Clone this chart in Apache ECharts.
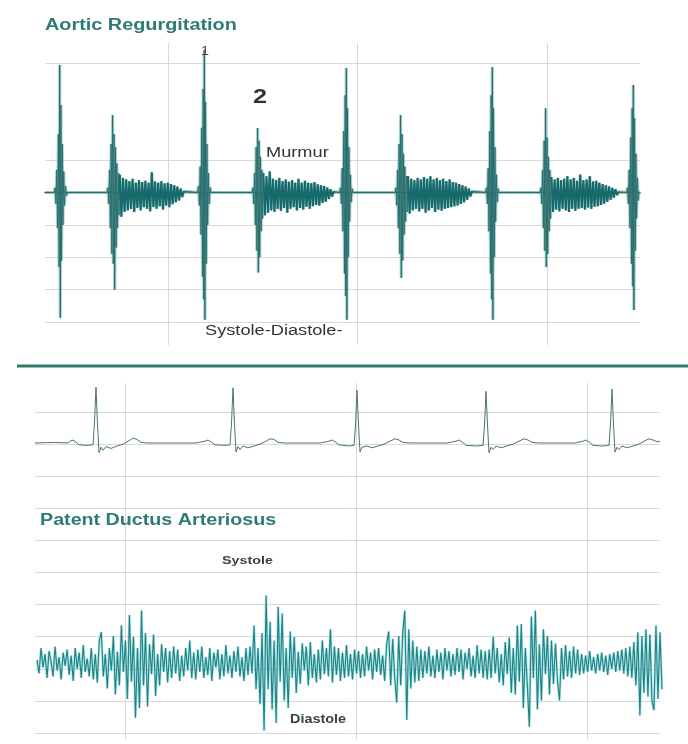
<!DOCTYPE html>
<html><head><meta charset="utf-8">
<script src="https://cdn.jsdelivr.net/npm/echarts@6/dist/echarts.min.js"></script>
<style>html,body{margin:0;padding:0;background:#fff}#c{width:688px;height:744px}</style>
</head><body><div id="c"></div>
<script>
// ---------- Aortic regurgitation phonocardiogram (time units, amplitude units) ----------
const s1a = [[9,0],[10.2,0.15],[11,-0.35],[11.8,0.7],[12.6,-1.1],[13.4,1.8],[14.1,-2.3],[14.7,3.94],[15.3,-3.87],[15.9,2.7],[16.5,-2.1],[17.2,1.5],[17.9,-1.0],[18.7,0.65],[19.5,-0.4],[20.4,0.2],[21.4,-0.1],[22.5,0]];
const s2a = [[62,0],[63,0.15],[63.8,-0.35],[64.6,0.7],[65.4,-1.1],[66.2,1.5],[66.9,-1.9],[67.6,2.39],[68.3,-2.2],[69,1.8],[69.7,-3.0],[70.4,1.4],[71.1,-1.7],[71.8,0.9],[72.5,-1.1],[73.3,0.6],[74,-0.7]];
const s1b = [[152.5,0],[153.5,0.2],[154.4,-0.4],[155.2,0.8],[156,-1.3],[156.8,2.0],[157.5,-2.6],[158.2,3.2],[158.8,-3.3],[159.3,4.4],[159.9,-3.93],[160.5,2.8],[161.2,-2.2],[161.9,1.5],[162.6,-1.0],[163.4,0.6],[164.2,-0.35],[165.1,0.15],[166,0]];
const s2b = [[207,0],[208,0.15],[208.8,-0.35],[209.6,0.6],[210.4,-1.0],[211.2,1.4],[211.9,-1.8],[212.6,1.99],[213.3,-2.47],[214,1.6],[214.7,-2.0],[215.4,1.1],[216.1,-1.2],[216.8,0.7],[217.6,-0.8]];
const s1c = [[294.5,0],[295.5,0.15],[296.4,-0.35],[297.2,0.75],[298,-1.2],[298.8,1.9],[299.5,-2.5],[300.2,3.0],[300.8,-3.2],[301.3,3.84],[301.9,-3.93],[302.5,2.6],[303.2,-2.0],[303.9,1.4],[304.6,-0.9],[305.4,0.55],[306.2,-0.3],[307.1,0.12],[308,0]];
const s2c = [[350,0],[351,0.15],[351.8,-0.4],[352.6,0.7],[353.4,-1.1],[354.2,1.5],[354.9,-1.9],[355.6,2.39],[356.3,-2.64],[357,1.8],[357.7,-2.1],[358.4,1.2],[359.1,-1.3],[359.8,0.8],[360.6,-0.9],[361.4,0.5],[362.2,-0.6]];
const s1d = [[440.5,0],[441.5,0.15],[442.4,-0.35],[443.2,0.75],[444,-1.2],[444.8,1.9],[445.5,-2.5],[446.2,3.0],[446.8,-3.3],[447.3,3.87],[447.9,-3.93],[448.5,2.6],[449.2,-2.0],[449.9,1.4],[450.6,-0.9],[451.4,0.55],[452.2,-0.3],[453.1,0.12],[454,0]];
const s2d = [[495,0],[496,0.15],[496.8,-0.35],[497.6,0.7],[498.4,-1.1],[499.2,1.6],[499.9,-1.8],[500.6,2.6],[501.3,-2.3],[502,1.7],[502.7,-1.9],[503.4,1.1],[504.1,-1.2],[504.8,0.7],[505.6,-0.8]];
const s1e = [[581.5,0],[582.5,0.15],[583.4,-0.35],[584.2,0.7],[585,-1.1],[585.8,1.7],[586.5,-2.2],[587.2,2.6],[587.8,-2.9],[588.3,3.32],[588.9,-3.63],[589.5,2.3],[590.2,-1.8],[590.9,1.2],[591.6,-0.8],[592.4,0.45],[593.2,-0.25],[594,0]];

const murmurStart = [74.8, 218.3, 363, 506.4];
const murmurStep = 1.6;
const murmur1 = [0.55,-0.75,0.45,-0.6,0.4,-0.55,0.35,-0.5,0.42,-0.6,0.3,-0.48,0.38,-0.55,0.32,-0.45,0.36,-0.5,0.3,-0.58,0.62,-0.45,0.34,-0.5,0.3,-0.42,0.35,-0.52,0.28,-0.4,0.3,-0.45,0.26,-0.36,0.22,-0.3,0.18,-0.24,0.12,-0.14,0.04];
const murmur2 = [0.6,-0.7,0.5,-0.62,0.65,-0.55,0.42,-0.6,0.38,-0.5,0.45,-0.56,0.35,-0.48,0.4,-0.62,0.33,-0.5,0.38,-0.45,0.3,-0.55,0.42,-0.48,0.3,-0.52,0.36,-0.44,0.3,-0.5,0.28,-0.42,0.32,-0.38,0.25,-0.4,0.22,-0.32,0.2,-0.28,0.15,-0.2,0.1,-0.12,0.03];
const murmur3 = [0.5,-0.65,0.42,-0.55,0.38,-0.5,0.45,-0.58,0.4,-0.5,0.48,-0.62,0.42,-0.55,0.5,-0.48,0.4,-0.6,0.45,-0.52,0.38,-0.56,0.42,-0.5,0.35,-0.48,0.4,-0.45,0.32,-0.42,0.3,-0.4,0.26,-0.35,0.22,-0.3,0.18,-0.22,0.12,-0.12,0.04];
const murmur4 = [0.48,-0.6,0.4,-0.52,0.45,-0.58,0.38,-0.5,0.42,-0.55,0.5,-0.6,0.4,-0.5,0.45,-0.56,0.36,-0.5,0.55,-0.48,0.38,-0.52,0.4,-0.46,0.5,-0.5,0.34,-0.44,0.36,-0.42,0.3,-0.38,0.26,-0.34,0.22,-0.28,0.18,-0.22,0.14,-0.16,0.1,-0.08,0.02];
const topEnds = [[0,0],[595,0]];

// ---------- ECG trace [time, mV] ----------
const ecgTrace = [
 [0,0],[20,0.01],[33,0],[35,0.03],[37,0.05],[40,0.03],[44,-0.03],[52,-0.04],[58,-0.03],[59.5,0.35],[61,0.93],[62.5,0.3],[64,-0.16],[66,-0.07],[68,-0.12],[71,-0.06],[76,-0.09],[82,-0.05],[88,-0.02],[94,0.04],[98,0.08],[102,0.06],[106,0.01],[113,0],
 [160,0],[170,0.03],[173,0.05],[176,0.02],[180,-0.03],[190,-0.04],[195,-0.03],[196.5,0.33],[198,0.92],[199.5,0.3],[201,-0.15],[203,-0.06],[205,-0.11],[208,-0.05],[213,-0.08],[219,-0.05],[225,-0.02],[231,0.03],[235,0.07],[239,0.06],[243,0.01],[250,0],
 [285,0],[294,0.03],[297,0.05],[300,0.02],[304,-0.03],[314,-0.05],[319,-0.04],[320.5,0.3],[322,0.88],[323.5,0.3],[325,-0.15],[327,-0.07],[329,-0.1],[332,-0.05],[337,-0.08],[343,-0.05],[349,-0.02],[355,0.03],[360,0.07],[364,0.05],[368,0.01],[375,0],
 [412,0],[421,0.03],[424,0.05],[427,0.02],[431,-0.04],[441,-0.05],[448,-0.04],[449.5,0.3],[451,0.86],[452.5,0.3],[454,-0.16],[456,-0.07],[458,-0.11],[461,-0.05],[466,-0.08],[472,-0.05],[478,-0.02],[484,0.03],[489,0.07],[493,0.05],[497,0.01],[504,0],
 [540,0],[548,0.03],[551,0.05],[554,0.02],[558,-0.04],[567,-0.05],[574,-0.04],[575.5,0.32],[577,0.9],[578.5,0.3],[580,-0.15],[582,-0.07],[584,-0.11],[587,-0.05],[592,-0.08],[598,-0.05],[604,-0.02],[610,0.04],[614,0.07],[618,0.05],[622,0.02],[625,0.03]
];

// ---------- Patent ductus arteriosus phonocardiogram (evenly sampled) ----------
const pdaSignal = [
 0.04,-0.14,0.2,-0.06,0.12,-0.2,0.16,0.02,-0.18,0.22,-0.1,0.08,-0.22,0.14,-0.04,0.18,
 -0.16,0.1,-0.24,0.2,-0.08,0.14,-0.2,0.24,-0.12,0.06,-0.18,0.2,-0.22,0.12,-0.26,0.3,
 0.41,-0.18,0.12,-0.34,0.2,-0.1,0.36,-0.42,0.15,-0.3,0.5,-0.12,0.3,-0.48,0.64,-0.25,
 0.35,-0.73,0.2,-0.6,0.7,-0.3,0.4,-0.58,0.25,-0.15,0.38,-0.44,0.12,-0.3,0.25,-0.12,
 0.2,-0.26,0.16,-0.2,0.22,-0.14,0.18,-0.24,0.1,-0.18,0.2,-0.1,0.3,-0.2,0.14,-0.22,
 0.18,-0.12,0.22,-0.2,0.08,-0.16,0.2,-0.24,0.14,-0.06,0.18,-0.22,0.12,-0.18,0.24,-0.14,
 0.1,-0.2,0.16,-0.12,0.22,-0.18,0.08,-0.24,0.2,-0.16,0.22,-0.14,0.5,-0.35,0.2,-0.55,
 0.4,-0.9,0.9,-0.35,0.55,-0.62,0.3,-0.8,0.75,-0.25,0.66,-0.5,0.2,-0.6,0.42,-0.2,
 0.35,-0.4,0.15,-0.28,0.26,-0.1,0.22,-0.3,0.28,-0.2,0.12,-0.26,0.18,-0.22,0.3,-0.15,
 0.2,-0.18,0.45,-0.26,0.22,-0.16,0.2,-0.24,0.14,-0.2,0.24,-0.18,0.12,-0.22,0.18,-0.14,
 0.16,-0.2,0.12,-0.18,0.22,-0.1,0.14,-0.22,0.18,-0.12,0.2,-0.16,0.1,-0.24,0.26,0.42,
 -0.3,0.32,-0.2,-0.53,0.36,-0.3,0.4,0.7,-0.76,0.45,-0.34,0.3,-0.26,0.22,-0.24,0.18,
 -0.2,0.16,-0.14,0.22,-0.18,0.1,-0.2,0.18,-0.12,0.14,-0.22,0.2,-0.1,0.16,-0.18,0.12,
 -0.16,0.2,-0.12,0.18,-0.22,0.14,-0.08,0.2,-0.18,0.1,-0.2,0.24,-0.14,0.18,-0.2,0.16,
 -0.22,0.18,-0.2,0.35,-0.14,0.2,-0.26,0.12,-0.3,0.28,-0.15,0.34,-0.4,0.2,-0.42,0.5,
 -0.25,0.52,-0.6,0.2,-0.3,-0.85,0.62,-0.2,0.7,-0.62,0.25,-0.5,0.45,-0.15,0.36,-0.42,
 0.3,-0.28,0.26,-0.24,-0.5,0.2,-0.22,0.24,-0.18,0.16,-0.2,0.22,-0.14,0.18,-0.16,0.12,
 -0.14,0.1,-0.12,0.16,-0.1,0.08,-0.14,0.12,-0.1,0.14,-0.12,0.1,-0.16,0.12,-0.08,0.14,
 -0.12,0.16,-0.1,0.18,-0.14,0.2,-0.18,0.22,-0.2,0.28,-0.3,0.41,-0.7,0.36,-0.4,0.45,
 -0.45,0.38,-0.5,-0.63,0.5,-0.48,0.41,-0.35
];

// ---------- labels ----------
const titleTop = 'Aortic Regurgitation';
const titleBottom = 'Patent Ductus Arteriosus';
const labels = { one: '1', two: '2', murmur: 'Murmur', sysdia: 'Systole-Diastole-', systole: 'Systole', diastole: 'Diastole' };

// ---------- build ----------
const sampled = (start, vals) => vals.map((v, i) => [start + i * murmurStep, v]);
const murmurs = [murmur1, murmur2, murmur3, murmur4].map((m, k) => sampled(murmurStart[k], m));
const topTrace = [].concat(
  [topEnds[0]], s1a, s2a, murmurs[0],
  s1b, s2b, murmurs[1],
  s1c, s2c, murmurs[2],
  s1d, s2d, murmurs[3],
  s1e, [topEnds[1]]
);

const GRID = '#d9d9d9';
const FONT = '"Liberation Sans", Arial, Helvetica, sans-serif';
const TEAL_T = '#2e7b76';
const hidden = { show: false };
const gridAxis = (extra) => Object.assign({
  axisLine: hidden, axisTick: hidden, axisLabel: hidden,
  splitLine: { show: true, lineStyle: { color: GRID, width: 1 } }
}, extra);

function txt(text, x, y, size, weight, fill, sx, align) {
  return { type: 'text', x: x, y: y, scaleX: sx, silent: true, z: 100,
    style: { text: text, font: weight + ' ' + size + 'px ' + FONT, fill: fill,
      align: align || 'left', verticalAlign: 'middle', textAlign: align || 'left', textVerticalAlign: 'middle' } };
}

const murmurSeries = murmurs.map(d => ({
  type: 'line', xAxisIndex: 0, yAxisIndex: 0, data: d, showSymbol: false, clip: false, silent: true, z: 3,
  lineStyle: { color: '#176a6c', width: 1.9 }
}));

const chart = echarts.init(document.getElementById('c'), null, { renderer: 'canvas' });
chart.setOption({
  backgroundColor: '#ffffff',
  animation: false,
  grid: [
    { left: 45, top: 63, width: 595, height: 259 },
    { left: 168, top: 43, width: 379, height: 302 },
    { left: 35, top: 412, width: 625, height: 321 },
    { left: 125, top: 383, width: 462, height: 357 },
    { left: 35, top: 383, width: 625, height: 120 },
    { left: 37, top: 588, width: 625, height: 150 }
  ],
  xAxis: [
    { gridIndex: 0, type: 'value', min: 0, max: 595, axisTick: hidden, axisLabel: hidden, splitLine: hidden,
      axisLine: { show: true, onZero: true, lineStyle: { color: '#2a3c3c', width: 1.3 } } },
    gridAxis({ gridIndex: 1, type: 'value', min: 0, max: 2, interval: 1 }),
    { gridIndex: 2, type: 'value', min: 0, max: 1, show: false },
    gridAxis({ gridIndex: 3, type: 'value', min: 0, max: 2, interval: 1 }),
    { gridIndex: 4, type: 'value', min: 0, max: 625, show: false },
    { gridIndex: 5, type: 'category', boundaryGap: false, data: pdaSignal.map((_, i) => i), show: false }
  ],
  yAxis: [
    { gridIndex: 0, type: 'value', min: -4, max: 4, interval: 1, axisLine: hidden, axisTick: hidden, axisLabel: hidden,
      splitLine: { show: true, lineStyle: { width: 1, color: [GRID, GRID, GRID, GRID, GRID, GRID, 'rgba(0,0,0,0)', 'rgba(0,0,0,0)', GRID] } } },
    { gridIndex: 1, type: 'value', min: 0, max: 1, show: false },
    gridAxis({ gridIndex: 2, type: 'value', min: 0, max: 10, interval: 1 }),
    { gridIndex: 3, type: 'value', min: 0, max: 1, show: false },
    { gridIndex: 4, type: 'value', min: -1, max: 1, show: false },
    { gridIndex: 5, type: 'value', min: -1, max: 1, show: false }
  ],
  series: [
    { type: 'line', xAxisIndex: 0, yAxisIndex: 0, data: topTrace, showSymbol: false, clip: false, silent: true,
      lineStyle: { color: 'rgba(110,178,174,0.6)', width: 3.2 } },
    { type: 'line', xAxisIndex: 0, yAxisIndex: 0, data: topTrace, showSymbol: false, clip: false, silent: true,
      lineStyle: { color: '#2a6f6e', width: 1 } }
  ].concat(murmurSeries, [
    { type: 'line', xAxisIndex: 4, yAxisIndex: 4, data: ecgTrace, showSymbol: false, clip: false, silent: true,
      lineStyle: { color: '#4a7472', width: 1 } },
    { type: 'line', xAxisIndex: 5, yAxisIndex: 5, data: pdaSignal, showSymbol: false, clip: false, silent: true,
      lineStyle: { color: 'rgba(90,190,192,0.45)', width: 2.6 } },
    { type: 'line', xAxisIndex: 5, yAxisIndex: 5, data: pdaSignal, showSymbol: false, clip: false, silent: true,
      lineStyle: { color: '#1a8488', width: 1.1 } }
  ]),
  graphic: [
    { type: 'line', silent: true, z: 50, shape: { x1: 17, y1: 366, x2: 688, y2: 366 }, style: { stroke: '#2f7a6c', lineWidth: 3 } },
    txt(titleTop, 45, 26, 16, 'bold', TEAL_T, 1.24),
    txt(labels.one, 205, 52, 12, 'normal', '#444', 1.2, 'center'),
    txt(labels.two, 253, 97, 21, 'bold', '#333', 1.2),
    txt(labels.murmur, 266, 153, 14, 'normal', '#333', 1.3),
    txt(labels.sysdia, 205, 331, 14, 'normal', '#333', 1.3),
    txt(titleBottom, 40, 521, 16, 'bold', TEAL_T, 1.23),
    txt(labels.systole, 222, 561, 11, 'bold', '#3a4444', 1.3),
    txt(labels.diastole, 290, 720, 12, 'bold', '#3a4444', 1.2)
  ]
});
</script></body></html>
